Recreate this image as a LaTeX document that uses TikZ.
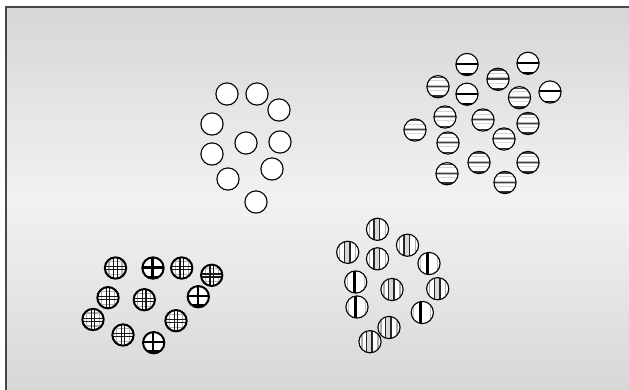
\documentclass[tikz,border=0pt]{standalone}
\usetikzlibrary{positioning}
\definecolor{bgedge}{RGB}{214,214,214}
\definecolor{bgmid}{RGB}{242,242,242}
\definecolor{frameline}{RGB}{72,72,72}
% one clipped stripe across a ball, offset from its centre (pc)
\newcommand{\hstripe}[3]{\draw[#2, line width=#3] ([shift={(-13pt,#1)}]pc) -- ++(26pt,0pt);}
\newcommand{\vstripe}[3]{\draw[#2, line width=#3] ([shift={(#1,-13pt)}]pc) -- ++(0pt,26pt);}

\begin{document}
\begin{tikzpicture}[x=1pt, y=-1pt,
  ball/.style={circle, draw, line width=1.1pt, fill=white, minimum size=22.2pt, inner sep=0pt},
  hbold/.style={ball, path picture={\coordinate (pc) at (path picture bounding box.center);
    \hstripe{0.6pt}{black}{2.1pt}\hstripe{-9.5pt}{black}{1.8pt}}},
  hgray/.style={ball, path picture={\coordinate (pc) at (path picture bounding box.center);
    \hstripe{9.3pt}{black!70}{1.5pt}\hstripe{6pt}{gray!35}{1pt}
    \hstripe{0.4pt}{gray!55}{3pt}\hstripe{0.4pt}{black!75}{1.2pt}
    \hstripe{-3.8pt}{gray!30}{1pt}\hstripe{-9.5pt}{black!80}{1.8pt}}},
  vbold/.style={ball, path picture={\coordinate (pc) at (path picture bounding box.center);
    \vstripe{-1.6pt}{black}{2.8pt}\vstripe{-8.5pt}{gray!50}{1pt}\vstripe{8.5pt}{gray!50}{1pt}}},
  vgray/.style={ball, path picture={\coordinate (pc) at (path picture bounding box.center);
    \fill[gray!30] ([shift={(-3pt,-13pt)}]pc) rectangle ++(5pt,26pt);
    \vstripe{-3.3pt}{black!85}{1.5pt}\vstripe{2.2pt}{black!85}{1.5pt}
    \vstripe{-8pt}{gray!65}{1.2pt}\vstripe{8pt}{gray!65}{1.2pt}}},
  cbold/.style={ball, line width=2pt, minimum size=21.3pt, path picture={\coordinate (pc) at (path picture bounding box.center);
    \vstripe{-0.6pt}{black}{2.3pt}\hstripe{0.5pt}{black}{2.4pt}\hstripe{-8.5pt}{black}{1.8pt}}},
  cgray/.style={ball, line width=2pt, minimum size=21.3pt, path picture={\coordinate (pc) at (path picture bounding box.center);
    \vstripe{-6.5pt}{gray!60}{1.2pt}\vstripe{6.5pt}{gray!60}{1.2pt}
    \hstripe{6.5pt}{gray!60}{1.2pt}\hstripe{-6.5pt}{gray!60}{1.2pt}
    \vstripe{-1.7pt}{black!90}{1.3pt}\vstripe{1.7pt}{black!90}{1.3pt}
    \hstripe{1.3pt}{black!90}{1.3pt}\hstripe{-1.7pt}{black!90}{1.3pt}}}]
\useasboundingbox (0,0) rectangle (629,389);
\clip (0,0) rectangle (629,389);
\shade[top color=bgedge, bottom color=bgmid] (6,7) rectangle (640,198);
\shade[top color=bgmid, bottom color=bgedge] (6,198) rectangle (640,400);
\draw[frameline, line width=1.5pt] (6,400) -- (6,7) -- (640,7);

% plain group
\foreach \x/\y [count=\i] in {227/94, 257/94, 279/110, 212/124, 246/143,
    280/142, 212/154, 272/169, 228/179, 256/202}
  \node[ball] (w\i) at (\x,\y) {};

% horizontal stripes
\foreach \x/\y [count=\i] in {467/64.5, 528/63.3, 467/94.2, 550/92}
  \node[hbold] (hb\i) at (\x,\y) {};
\foreach \x/\y [count=\i] in {498/79.3, 438/86.7, 519.5/97.7, 445/117, 483/120,
    528/123.5, 415/130, 504/139, 448/143, 479/162.5, 528/162.5, 447/173.7, 505/182.5}
  \node[hgray] (hg\i) at (\x,\y) {};

% crossed
\foreach \x/\y [count=\i] in {153/268, 198.3/296.7, 153.7/342.7}
  \node[cbold] (cb\i) at (\x,\y) {};
\foreach \x/\y [count=\i] in {115.5/268, 181.7/268, 211.7/275.3, 108/297.7,
    144.3/299.7, 93/319.5, 176/320.7, 123/335}
  \node[cgray] (cg\i) at (\x,\y) {};

% vertical stripes
\foreach \x/\y [count=\i] in {429/263.5, 355.7/282, 357/307, 422.3/312.5}
  \node[vbold] (vb\i) at (\x,\y) {};
\foreach \x/\y [count=\i] in {377.5/229.3, 407.5/245.2, 347.7/252.3, 377.5/258.8,
    392/289.5, 437.7/288.7, 389/327.5, 370/341.7}
  \node[vgray] (vg\i) at (\x,\y) {};
\end{tikzpicture}
\end{document}
